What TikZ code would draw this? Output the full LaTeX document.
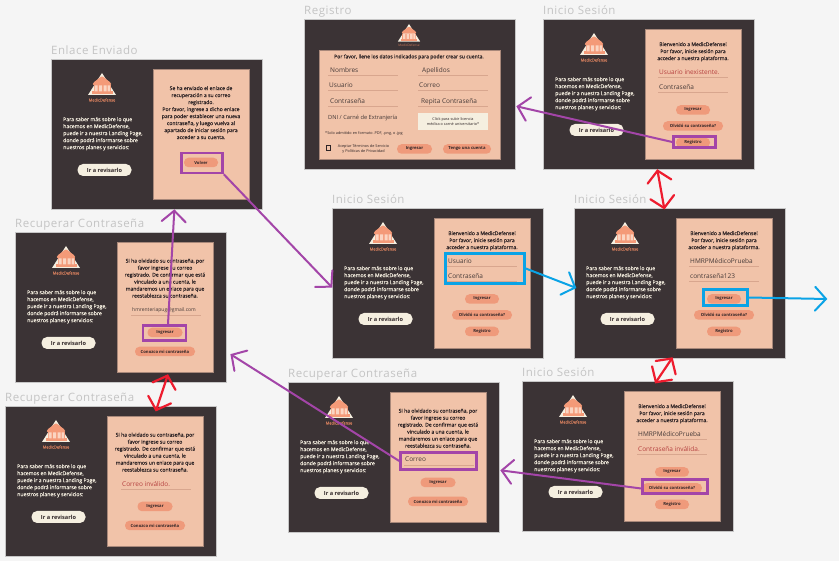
\documentclass[tikz,border=0pt]{standalone}
\usepackage{fontspec}
\setmainfont{Open Sans}
\newfontfamily\titlefont[LetterSpace=4.5]{Open Sans}
\newfontfamily\semibold[FakeBold=0.35]{Open Sans}
\usetikzlibrary{arrows.meta}
\definecolor{pagebg}{HTML}{F5F5F5}
\definecolor{framefill}{HTML}{3B3335}
\definecolor{frameline}{HTML}{C6C6C6}
\definecolor{panelfill}{HTML}{F1C3A9}
\definecolor{panelline}{HTML}{A8887A}
\definecolor{creamc}{HTML}{F5EFE0}
\definecolor{btnfill}{HTML}{EF9A7B}
\definecolor{logoorange}{HTML}{F49A78}
\definecolor{logopale}{HTML}{FBD5C2}
\definecolor{brandc}{HTML}{C9795A}
\definecolor{titlec}{HTML}{C4C4C4}
\definecolor{inkc}{HTML}{2E2426}
\definecolor{fieldink}{HTML}{463A38}
\definecolor{errc}{HTML}{B5403F}
\definecolor{ruleline}{HTML}{D8A68E}
\definecolor{purplec}{HTML}{A345A8}
\definecolor{bluec}{HTML}{0AA3E6}
\definecolor{redc}{HTML}{EE1C2E}
\pgfdeclarearrow{
  name=HandVee,
  setup code={\pgfarrowssettipend{1pt}\pgfarrowssetbackend{-11pt}\pgfarrowssetlineend{0pt}\pgfarrowssetvisualbackend{-1pt}},
  drawing code={\pgfsetdash{}{0pt}\pgfsetroundcap\pgfsetmiterjoin
    \pgfpathmoveto{\pgfqpoint{-11pt}{12pt}}\pgfpathlineto{\pgfqpoint{0pt}{0pt}}\pgfpathlineto{\pgfqpoint{-11pt}{-12pt}}\pgfusepathqstroke},
}
\tikzset{
  x=1pt,y=-1pt,
  frame/.style={draw=frameline,line width=.7pt,fill=framefill,minimum width=211pt,minimum height=150pt,inner sep=0pt,anchor=north west},
  panel/.style={draw=panelline,line width=.7pt,fill=panelfill,inner sep=0pt,anchor=north west},
  screentitle/.style={text=titlec,anchor=base west,inner sep=0pt,font=\titlefont\fontsize{11.5}{12}\selectfont},
  lefttext/.style={text=creamc,align=left,anchor=north west,inner sep=0pt,font=\semibold\fontsize{5.2}{7}\selectfont},
  paneltext/.style={text=inkc,align=center,anchor=north,inner sep=0pt,font=\semibold\fontsize{5.1}{7}\selectfont},
  revbtn/.style={fill=creamc,rounded corners=5.5pt,minimum width=54pt,minimum height=12pt,inner sep=0pt,text=inkc,font=\bfseries\fontsize{5.6}{6}\selectfont},
  btn/.style={fill=btnfill,rounded corners=4.5pt,minimum height=9.5pt,inner sep=0pt,text=inkc,font=\bfseries\fontsize{4.2}{5}\selectfont},
  fieldtext/.style={text=fieldink,anchor=base west,inner sep=0pt,font=\fontsize{6.5}{7}\selectfont},
  rulestyle/.style={ruleline,line width=.7pt},
  brand/.style={text=brandc,inner sep=0pt,font=\semibold\fontsize{4}{4}\selectfont},
  hlpurple/.style={draw=purplec,line width=2.6pt,inner sep=0pt},
  hlblue/.style={draw=bluec,line width=2.6pt,inner sep=0pt},
  flow/.style={line width=2pt,-{HandVee}},
  flowboth/.style={line width=2.2pt,{HandVee}-{HandVee}},
}
% #1 apex x, #2 apex y, #3 scale
\newcommand{\medlogo}[3]{%
  \begin{scope}[shift={(#1,#2)},scale=#3]
    \fill[creamc] (0,0) -- (-14,22) -- (14,22) -- cycle;
    \fill[logoorange,rounded corners=1pt] (0,3) -- (-8.5,9.5) -- (-9.5,12) -- (9.5,12) -- (8.5,9.5) -- cycle;
    \fill[logoorange] (-8.5,12) rectangle (8.5,18.5);
    \fill[logoorange] (-10.5,18.5) rectangle (10.5,21);
    \fill[logopale] (-7.5,12.5) rectangle (-4.5,18.5) (-3,12.5) rectangle (0,18.5) (1.5,12.5) rectangle (4.5,18.5) (5.5,12.5) rectangle (8,18.5);
  \end{scope}}
\newcommand{\leftside}[1]{%
  \medlogo{51}{14}{1}
  \node[brand] (#1-brand) at (51,41) {MedicDefense};
  \node[lefttext] (#1-info) at (12,58) {Para saber más sobre lo que\\hacemos en MedicDefense,\\puede ir a nuestra Landing Page,\\donde podrá informarse sobre\\nuestros planes y servicios:};
  \node[revbtn] (#1-rev) at (53.5,111) {Ir a revisarlo};}
% id, x, y, title
\newcommand{\frameat}[4]{%
  \node[frame] (#1) at (#2,#3) {};
  \node[screentitle] (#1-title) at (#2,#3-4) {#4};}
\newcommand{\stdpanel}[1]{\node[panel,minimum width=96pt,minimum height=130pt] (#1-panel) at (102,10) {};}
% login: id,x,y, field1, color1, field2, color2
\newcommand{\loginscreen}[7]{%
  \frameat{#1}{#2}{#3}{Inicio Sesión}
  \begin{scope}[shift={(#2,#3)}]
    \stdpanel{#1}\leftside{#1}
    \node[paneltext] (#1-hello) at (150,23) {Bienvenido a MedicDefense!\\Por favor, inicie sesión para\\acceder a nuestra plataforma.};
    \node[fieldtext,text=#5] (#1-f1) at (116,56) {#4};
    \draw[rulestyle] (115,58) -- (185,58);
    \node[fieldtext,text=#7] (#1-f2) at (116,70.5) {#6};
    \draw[rulestyle] (115,73) -- (185,73);
    \node[btn,minimum width=34pt] (#1-ing) at (150,91) {Ingresar};
    \node[btn,minimum width=60pt] (#1-olv) at (150,107) {Olvidó su contraseña?};
    \node[btn,minimum width=34pt] (#1-reg) at (150,123.5) {Registro};
  \end{scope}}
% recover: id,x,y, field, color, field font size
\newcommand{\recoverscreen}[6]{%
  \frameat{#1}{#2}{#3}{Recuperar Contraseña}
  \begin{scope}[shift={(#2,#3)}]
    \stdpanel{#1}\leftside{#1}
    \node[paneltext] (#1-msg) at (150,26.5) {Si ha olvidado su contraseña, por\\favor ingrese su correo\\registrado. De confirmar que está\\vinculado a una cuenta, le\\mandaremos un enlace para que\\reestablezca su contraseña.};
    \node[fieldtext,text=#5,font=\fontsize{#6}{7}\selectfont] (#1-f) at (117,80) {#4};
    \draw[rulestyle] (116,83) -- (186,83);
    \node[btn,minimum width=35pt] (#1-ing) at (150,100.5) {Ingresar};
    \node[btn,minimum width=60pt] (#1-con) at (150,119.5) {Conozco mi contraseña};
  \end{scope}}
\begin{document}
\begin{tikzpicture}
\useasboundingbox (0,0) rectangle (839,561);
\fill[pagebg] (0,0) rectangle (839,561);

% Registro
\frameat{regis}{304}{19}{Registro}
\begin{scope}[shift={(304,19)}]
  \medlogo{105}{5}{.8}
  \node[brand,text=brandc,font=\fontsize{3.2}{3}\selectfont] (regis-brand) at (105,26) {MedicDefense};
  \node[panel,minimum width=181pt,minimum height=109pt] (regis-panel) at (15,31) {};
  \node[paneltext,anchor=center] (regis-msg) at (105,38) {Por favor, llene los datos indicados para poder crear su cuenta.};
  \node[fieldtext] (regis-a) at (26,54) {Nombres};
  \node[fieldtext] (regis-b) at (118,54) {Apellidos};
  \draw[rulestyle] (24,56.5) -- (94,56.5) (114,56.5) -- (184,56.5);
  \node[fieldtext] (regis-c) at (25,69) {Usuario};
  \node[fieldtext] (regis-d) at (115,69) {Correo};
  \draw[rulestyle] (24,71.5) -- (94,71.5) (114,71.5) -- (184,71.5);
  \node[fieldtext] (regis-e) at (26,84.5) {Contraseña};
  \node[fieldtext] (regis-f) at (117,84.5) {Repita Contraseña};
  \draw[rulestyle] (24,87) -- (94,87) (114,87) -- (184,87);
  \node[fieldtext,font=\fontsize{5.7}{7}\selectfont] (regis-g) at (24,101) {DNI / Carné de Extranjería};
  \node[fill=creamc,minimum width=70pt,minimum height=16.5pt,inner sep=0pt,align=center,text=inkc,font=\fontsize{3.8}{5.8}\selectfont] (regis-up) at (149,102.5) {Click para subir licencia\\médica o carné universitario*};
  \node[text=inkc,anchor=west,inner sep=0pt,font=\fontsize{3.8}{5}\selectfont] (regis-note) at (21,114.5) {*Solo admitido en formato .PDF, .png, o .jpg};
  \node[draw=inkc,line width=.9pt,minimum size=4.8pt,inner sep=0pt] (regis-chk) at (24.5,129) {};
  \node[text=inkc,align=center,inner sep=0pt,font=\fontsize{3.8}{5.8}\selectfont] (regis-terms) at (59.5,130) {Aceptar Términos de Servicio\\y Políticas de Privacidad};
  \node[btn,minimum width=35pt] (regis-ing) at (110.5,130) {Ingresar};
  \node[btn,minimum width=48pt] (regis-ten) at (163,130) {Tengo una cuenta};
\end{scope}

\loginscreen{itop}{543}{19}{Usuario inexistente.}{errc}{Contraseña}{fieldink}
\loginscreen{imid}{332}{208}{Usuario}{fieldink}{Contraseña}{fieldink}
\loginscreen{iright}{574}{208}{HMRPMédicoPrueba}{fieldink}{contraseña123}{fieldink}
\loginscreen{ibr}{522}{381}{HMRPMédicoPrueba}{fieldink}{Contraseña inválida.}{errc}

% Enlace Enviado
\frameat{enl}{51}{59}{Enlace Enviado}
\begin{scope}[shift={(51,59)}]
  \stdpanel{enl}\leftside{enl}
  \node[paneltext] (enl-msg) at (150,27) {Se ha enviado el enlace de\\recuperación a su correo\\registrado.\\Por favor, ingrese a dicho enlace\\para poder establecer una nueva\\contraseña, y luego vuelva al\\apartado de iniciar sesión para\\acceder a su cuenta.};
  \node[btn,minimum width=34pt] (enl-vol) at (150,103.5) {Volver};
\end{scope}

\recoverscreen{rone}{15}{232}{hmrenteriapug@gmail.com}{fieldink}{5}
\recoverscreen{rbl}{5}{406}{Correo inválido.}{errc}{6.5}
\recoverscreen{rbm}{288}{382}{Correo}{fieldink}{6.5}

% Highlights
\node[hlpurple,minimum width=42pt,minimum height=11.5pt] (hreg) at (694.5,142) {};
\node[hlpurple,minimum width=41pt,minimum height=20pt] (hvol) at (202,163) {};
\node[hlpurple,minimum width=43pt,minimum height=15.5pt] (hing) at (164.5,333) {};
\node[hlpurple,minimum width=76pt,minimum height=17.5pt] (hcor) at (438.5,461) {};
\node[hlpurple,minimum width=65pt,minimum height=14.5pt] (holv) at (675,486.5) {};
\node[hlblue,minimum width=79pt,minimum height=30.5pt] (hcred) at (485,268.5) {};
\node[hlblue,minimum width=44pt,minimum height=16.5pt] (hgo) at (725.5,297.5) {};
\coordinate (exit) at (827,299);

% Connectors
\draw[flow,purplec] (hreg.west) -- ([xshift=1pt,yshift=-12pt]regis.east);
\draw[flow,purplec] (hvol.south east) -- ([yshift=-4pt]imid.west);
\draw[flow,purplec] ([xshift=3.5pt]hing.north) -- ([xshift=17.5pt]enl.south);
\draw[flow,purplec] (hcor.west) -- ([xshift=4pt,yshift=-47pt]rone.east);
\draw[flow,purplec] ([yshift=-2pt]holv.west) -- ([xshift=1pt,yshift=-13pt]rbm.east);
\draw[flow,bluec] (hcred.east) -- ([xshift=2pt,yshift=-4.5pt]iright.west);
\draw[flow,bluec] (hgo.east) -- (exit);
\draw[flowboth,redc] ([xshift=8.5pt]itop.south) -- ([xshift=-15.5pt,yshift=-1pt]iright.north);
\draw[flowboth,redc] ([xshift=-7.5pt,yshift=1pt]iright.south) -- ([xshift=27.5pt,yshift=-2pt]ibr.north);
\draw[flowboth,redc] ([xshift=47pt,yshift=8pt]rone.south) -- ([xshift=45pt,yshift=-5pt]rbl.north);
\end{tikzpicture}
\end{document}
